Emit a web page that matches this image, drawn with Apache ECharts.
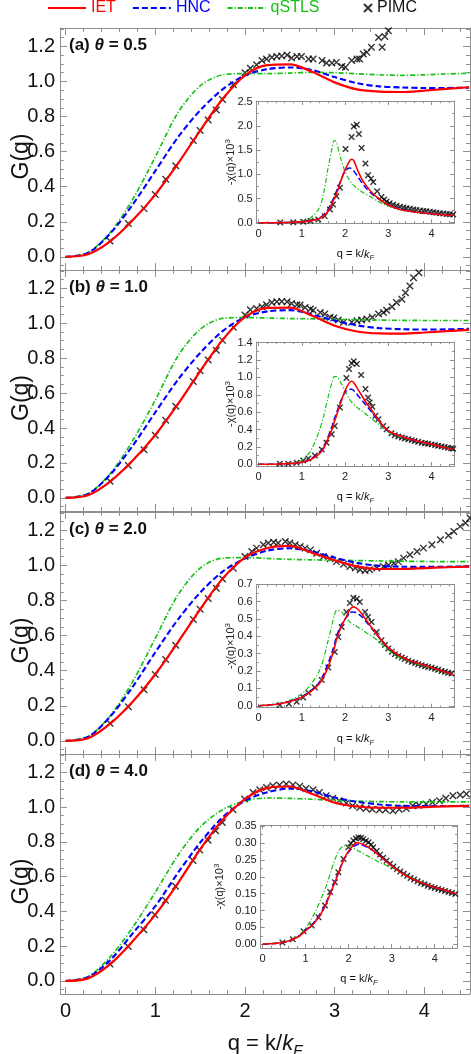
<!DOCTYPE html>
<html>
<head>
<meta charset="utf-8">
<script src="https://cdn.jsdelivr.net/npm/echarts@6.0.0/dist/echarts.min.js"></script>
<style>
html, body { margin: 0; padding: 0; background: #fff; }
#chart { width: 471px; height: 1054px; }
</style>
</head>
<body>
<div id="chart"></div>
<script>
// ---- data ----
const mainQ = [0, 0.25, 0.5, 0.75, 1, 1.25, 1.5, 1.75, 2, 2.25, 2.5, 2.75, 3, 3.25, 3.5, 3.75, 4, 4.25, 4.5];

const ietMainA = [0, 0.015, 0.09, 0.21, 0.355, 0.53, 0.72, 0.9, 1.035, 1.093, 1.097, 1.055, 0.995, 0.955, 0.942, 0.94, 0.948, 0.958, 0.967];
const hncMainA = [0, 0.022, 0.135, 0.3, 0.49, 0.68, 0.835, 0.955, 1.035, 1.07, 1.08, 1.065, 1.025, 0.99, 0.972, 0.966, 0.963, 0.963, 0.965];
const stlsMainA = [0, 0.025, 0.14, 0.33, 0.57, 0.82, 0.975, 1.038, 1.045, 1.045, 1.048, 1.052, 1.05, 1.044, 1.038, 1.035, 1.038, 1.043, 1.047];

const ietMainB = [0, 0.015, 0.095, 0.215, 0.36, 0.535, 0.725, 0.905, 1.035, 1.088, 1.09, 1.043, 0.986, 0.953, 0.942, 0.941, 0.947, 0.955, 0.962];
const hncMainB = [0, 0.022, 0.135, 0.3, 0.49, 0.675, 0.83, 0.955, 1.035, 1.068, 1.075, 1.05, 1.015, 0.988, 0.972, 0.966, 0.964, 0.965, 0.968];
const stlsMainB = [0, 0.025, 0.14, 0.33, 0.56, 0.81, 0.965, 1.028, 1.033, 1.03, 1.027, 1.025, 1.022, 1.02, 1.018, 1.017, 1.016, 1.016, 1.016];

const ietMainC = [0, 0.015, 0.1, 0.225, 0.38, 0.56, 0.75, 0.925, 1.045, 1.1, 1.112, 1.072, 1.03, 0.995, 0.98, 0.98, 0.985, 0.99, 0.993];
const hncMainC = [0, 0.022, 0.14, 0.31, 0.505, 0.69, 0.845, 0.965, 1.04, 1.085, 1.098, 1.08, 1.045, 1.015, 0.998, 0.993, 0.992, 0.993, 0.994];
const stlsMainC = [0, 0.025, 0.145, 0.34, 0.585, 0.83, 0.985, 1.042, 1.045, 1.04, 1.035, 1.032, 1.03, 1.028, 1.026, 1.024, 1.023, 1.022, 1.022];

const ietMainD = [0, 0.015, 0.098, 0.23, 0.381, 0.56, 0.757, 0.925, 1.046, 1.11, 1.118, 1.075, 1.025, 1.003, 0.996, 0.996, 1.0, 1.004, 1.007];
const hncMainD = [0, 0.022, 0.121, 0.275, 0.43, 0.62, 0.795, 0.94, 1.036, 1.085, 1.106, 1.09, 1.055, 1.03, 1.015, 1.007, 1.006, 1.006, 1.007];
const stlsMainD = [0, 0.025, 0.14, 0.31, 0.51, 0.72, 0.885, 0.985, 1.035, 1.052, 1.05, 1.045, 1.038, 1.034, 1.031, 1.03, 1.03, 1.03, 1.03];

const pimcMainA = [[0.495, 0.09], [0.7, 0.19], [0.874, 0.275], [1, 0.355], [1.116, 0.442], [1.228, 0.52], [1.424, 0.663], [1.5, 0.72], [1.59, 0.78], [1.68, 0.838], [1.75, 0.897], [1.87, 0.982], [2, 1.05], [2.06, 1.075], [2.13, 1.095], [2.19, 1.119], [2.24, 1.128], [2.3, 1.138], [2.355, 1.143], [2.41, 1.146], [2.47, 1.151], [2.52, 1.134], [2.58, 1.143], [2.63, 1.143], [2.71, 1.128], [2.76, 1.128], [2.86, 1.119], [2.91, 1.105], [2.97, 1.105], [3.02, 1.109], [3.08, 1.086], [3.12, 1.081], [3.19, 1.119], [3.25, 1.128], [3.28, 1.128], [3.32, 1.157], [3.36, 1.166], [3.41, 1.195], [3.49, 1.251], [3.53, 1.195], [3.56, 1.257], [3.6, 1.29]];
const pimcMainB = [[0.495, 0.096], [0.7, 0.185], [0.874, 0.276], [1, 0.359], [1.116, 0.445], [1.228, 0.525], [1.424, 0.666], [1.5, 0.728], [1.59, 0.789], [1.68, 0.845], [1.75, 0.902], [1.87, 0.977], [2, 1.047], [2.06, 1.077], [2.13, 1.085], [2.19, 1.094], [2.24, 1.106], [2.3, 1.119], [2.355, 1.123], [2.41, 1.125], [2.47, 1.123], [2.52, 1.113], [2.58, 1.106], [2.615, 1.104], [2.67, 1.09], [2.73, 1.081], [2.76, 1.075], [2.84, 1.062], [2.89, 1.053], [2.95, 1.034], [2.99, 1.03], [3.04, 1.019], [3.1, 1.006], [3.19, 1.006], [3.25, 1.015], [3.3, 1.019], [3.36, 1.024], [3.42, 1.034], [3.49, 1.053], [3.545, 1.062], [3.58, 1.075], [3.64, 1.094], [3.69, 1.119], [3.75, 1.138], [3.79, 1.175], [3.84, 1.213], [3.88, 1.26], [3.94, 1.289]];
const pimcMainC = [[0.495, 0.101], [0.7, 0.195], [0.874, 0.292], [1, 0.378], [1.116, 0.464], [1.228, 0.545], [1.424, 0.692], [1.5, 0.751], [1.59, 0.812], [1.68, 0.87], [1.75, 0.923], [1.87, 0.984], [2, 1.051], [2.076, 1.08], [2.13, 1.099], [2.205, 1.118], [2.26, 1.128], [2.32, 1.133], [2.37, 1.128], [2.45, 1.137], [2.5, 1.128], [2.56, 1.118], [2.615, 1.108], [2.67, 1.099], [2.73, 1.089], [2.8, 1.07], [2.875, 1.051], [2.95, 1.038], [3.02, 1.022], [3.1, 1.007], [3.17, 0.994], [3.23, 0.985], [3.285, 0.975], [3.34, 0.971], [3.39, 0.975], [3.47, 0.985], [3.545, 0.994], [3.6, 1.003], [3.66, 1.013], [3.71, 1.022], [3.77, 1.042], [3.84, 1.061], [3.92, 1.08], [3.99, 1.099], [4.085, 1.118], [4.18, 1.147], [4.27, 1.171], [4.33, 1.194], [4.4, 1.223], [4.46, 1.242], [4.51, 1.271]];
const pimcMainD = [[0.494, 0.098], [0.698, 0.198], [0.872, 0.295], [0.994, 0.381], [1.113, 0.464], [1.225, 0.545], [1.42, 0.693], [1.495, 0.753], [1.588, 0.809], [1.673, 0.863], [1.748, 0.911], [1.866, 0.984], [1.996, 1.046], [2.09, 1.084], [2.165, 1.1], [2.24, 1.113], [2.31, 1.123], [2.385, 1.127], [2.46, 1.132], [2.535, 1.127], [2.61, 1.119], [2.68, 1.107], [2.76, 1.1], [2.83, 1.084], [2.905, 1.065], [2.98, 1.05], [3.05, 1.036], [3.13, 1.023], [3.2, 1.007], [3.28, 0.998], [3.35, 0.992], [3.42, 0.988], [3.5, 0.984], [3.57, 0.984], [3.65, 0.978], [3.72, 0.988], [3.8, 0.992], [3.87, 1.007], [3.94, 1.011], [4.02, 1.017], [4.09, 1.027], [4.17, 1.036], [4.24, 1.05], [4.32, 1.065], [4.4, 1.069], [4.47, 1.075]];

const insetQ = [0, 0.5, 0.8, 1, 1.2, 1.4, 1.5, 1.6, 1.7, 1.75, 1.8, 1.9, 2, 2.1, 2.15, 2.2, 2.3, 2.4, 2.5, 2.6, 2.8, 3, 3.25, 3.5, 3.75, 4, 4.25, 4.5];

const ietInsetA = [0, 0.002, 0.008, 0.018, 0.038, 0.085, 0.14, 0.235, 0.4, 0.5, 0.6, 0.86, 1.09, 1.27, 1.31, 1.28, 1.06, 0.88, 0.75, 0.64, 0.48, 0.365, 0.28, 0.235, 0.205, 0.185, 0.165, 0.15];
const hncInsetA = [0, 0.002, 0.009, 0.02, 0.042, 0.095, 0.16, 0.27, 0.44, 0.54, 0.65, 0.87, 1.07, 1.13, 1.12, 1.07, 0.94, 0.81, 0.7, 0.61, 0.475, 0.37, 0.285, 0.24, 0.21, 0.19, 0.17, 0.155];
const stlsInsetA = [0, 0.003, 0.012, 0.03, 0.1, 0.3, 0.6, 1.1, 1.55, 1.7, 1.66, 1.32, 1.05, 0.88, 0.82, 0.77, 0.69, 0.63, 0.58, 0.53, 0.42, 0.345, 0.28, 0.24, 0.21, 0.19, 0.17, 0.155];

const ietInsetB = [0, 0.003, 0.01, 0.022, 0.052, 0.12, 0.18, 0.29, 0.41, 0.49, 0.56, 0.71, 0.85, 0.94, 0.955, 0.94, 0.86, 0.78, 0.7, 0.635, 0.49, 0.385, 0.33, 0.29, 0.26, 0.23, 0.2, 0.175];
const hncInsetB = [0, 0.003, 0.011, 0.024, 0.056, 0.13, 0.2, 0.31, 0.44, 0.52, 0.59, 0.73, 0.83, 0.865, 0.865, 0.85, 0.79, 0.73, 0.67, 0.61, 0.48, 0.38, 0.33, 0.29, 0.26, 0.23, 0.2, 0.175];
const stlsInsetB = [0, 0.003, 0.015, 0.05, 0.15, 0.38, 0.55, 0.76, 0.95, 1.01, 1.01, 0.94, 0.84, 0.75, 0.715, 0.69, 0.645, 0.61, 0.57, 0.53, 0.45, 0.37, 0.32, 0.29, 0.26, 0.235, 0.205, 0.18];

const ietInsetC = [0, 0.012, 0.03, 0.05, 0.08, 0.125, 0.165, 0.22, 0.29, 0.33, 0.38, 0.45, 0.5, 0.55, 0.565, 0.57, 0.555, 0.525, 0.49, 0.455, 0.39, 0.335, 0.29, 0.26, 0.24, 0.22, 0.2, 0.178];
const hncInsetC = [0, 0.013, 0.032, 0.053, 0.085, 0.135, 0.18, 0.24, 0.31, 0.35, 0.4, 0.46, 0.5, 0.53, 0.54, 0.54, 0.53, 0.51, 0.48, 0.45, 0.39, 0.335, 0.29, 0.26, 0.24, 0.22, 0.2, 0.178];
const stlsInsetC = [0, 0.014, 0.04, 0.07, 0.12, 0.2, 0.27, 0.37, 0.47, 0.52, 0.55, 0.545, 0.512, 0.485, 0.475, 0.467, 0.452, 0.438, 0.42, 0.405, 0.365, 0.32, 0.28, 0.255, 0.235, 0.215, 0.195, 0.175];

const ietInsetD = [0, 0.006, 0.02, 0.04, 0.063, 0.1, 0.127, 0.158, 0.19, 0.207, 0.224, 0.255, 0.277, 0.293, 0.299, 0.301, 0.298, 0.292, 0.284, 0.275, 0.253, 0.233, 0.21, 0.193, 0.18, 0.17, 0.16, 0.15];
const hncInsetD = [0, 0.006, 0.021, 0.042, 0.066, 0.104, 0.131, 0.162, 0.194, 0.21, 0.226, 0.254, 0.274, 0.288, 0.293, 0.296, 0.295, 0.29, 0.283, 0.275, 0.254, 0.234, 0.211, 0.194, 0.181, 0.17, 0.16, 0.15];
const stlsInsetD = [0, 0.007, 0.022, 0.048, 0.09, 0.148, 0.18, 0.222, 0.258, 0.272, 0.283, 0.292, 0.29, 0.285, 0.282, 0.279, 0.272, 0.265, 0.258, 0.251, 0.238, 0.228, 0.212, 0.196, 0.182, 0.171, 0.161, 0.152];

const pimcInsetA = [[0.5, 0.004], [0.8, 0.01], [1.03, 0.02], [1.2, 0.04], [1.38, 0.068], [1.53, 0.136], [1.65, 0.273], [1.72, 0.376], [1.8, 0.547], [1.88, 0.72], [2.01, 1.52], [2.15, 1.767], [2.2, 1.985], [2.27, 2.02], [2.32, 1.83], [2.38, 1.54], [2.47, 1.22], [2.53, 0.98], [2.6, 0.91], [2.65, 0.84], [2.74, 0.65], [2.84, 0.53], [2.9, 0.48], [2.96, 0.44], [3.03, 0.4], [3.11, 0.376], [3.19, 0.35], [3.27, 0.33], [3.35, 0.315], [3.42, 0.3], [3.5, 0.288], [3.58, 0.275], [3.65, 0.265], [3.73, 0.253], [3.81, 0.243], [3.88, 0.235], [3.96, 0.226], [4.04, 0.216], [4.11, 0.207], [4.19, 0.197], [4.27, 0.19], [4.35, 0.182], [4.42, 0.175], [4.5, 0.168]];
const pimcInsetB = [[0.49, 0.006], [0.685, 0.006], [0.88, 0.017], [1.03, 0.044], [1.15, 0.067], [1.3, 0.1], [1.46, 0.171], [1.57, 0.249], [1.69, 0.345], [1.76, 0.442], [1.88, 0.654], [2.03, 0.993], [2.09, 1.097], [2.15, 1.163], [2.2, 1.186], [2.27, 1.155], [2.37, 1.028], [2.47, 0.866], [2.53, 0.77], [2.57, 0.712], [2.63, 0.662], [2.7, 0.558], [2.77, 0.518], [2.88, 0.442], [2.96, 0.403], [3.07, 0.356], [3.15, 0.333], [3.23, 0.32], [3.31, 0.307], [3.38, 0.297], [3.46, 0.287], [3.54, 0.278], [3.61, 0.268], [3.69, 0.258], [3.77, 0.249], [3.85, 0.243], [3.92, 0.237], [4, 0.229], [4.08, 0.222], [4.15, 0.214], [4.23, 0.206], [4.3, 0.198], [4.38, 0.191], [4.45, 0.184], [4.5, 0.179]];
const pimcInsetC = [[0.49, 0.004], [0.7, 0.012], [0.88, 0.023], [1.03, 0.048], [1.15, 0.075], [1.3, 0.105], [1.46, 0.148], [1.61, 0.22], [1.76, 0.31], [1.84, 0.397], [1.92, 0.454], [2.03, 0.54], [2.11, 0.592], [2.19, 0.623], [2.27, 0.617], [2.34, 0.598], [2.46, 0.54], [2.53, 0.512], [2.61, 0.483], [2.73, 0.425], [2.84, 0.378], [2.92, 0.35], [3, 0.33], [3.08, 0.312], [3.15, 0.297], [3.23, 0.287], [3.31, 0.278], [3.38, 0.27], [3.46, 0.26], [3.54, 0.253], [3.62, 0.246], [3.69, 0.24], [3.77, 0.234], [3.85, 0.228], [3.92, 0.223], [4, 0.219], [4.08, 0.213], [4.15, 0.207], [4.23, 0.201], [4.31, 0.196], [4.38, 0.191], [4.46, 0.186]];
const pimcInsetD = [[0.46, 0.005], [0.7, 0.015], [0.95, 0.039], [1.14, 0.056], [1.3, 0.08], [1.45, 0.115], [1.57, 0.155], [1.68, 0.184], [1.76, 0.214], [1.88, 0.253], [1.99, 0.288], [2.05, 0.3], [2.11, 0.308], [2.17, 0.314], [2.23, 0.317], [2.29, 0.316], [2.34, 0.312], [2.4, 0.307], [2.46, 0.303], [2.52, 0.295], [2.57, 0.288], [2.65, 0.277], [2.73, 0.266], [2.8, 0.257], [2.88, 0.248], [2.96, 0.239], [3.04, 0.231], [3.12, 0.223], [3.2, 0.216], [3.28, 0.209], [3.36, 0.203], [3.44, 0.197], [3.52, 0.192], [3.6, 0.187], [3.68, 0.182], [3.76, 0.178], [3.84, 0.174], [3.92, 0.17], [4, 0.167], [4.08, 0.164], [4.16, 0.161], [4.24, 0.158], [4.32, 0.155], [4.4, 0.152], [4.48, 0.149]];

// tick labels
const mainXTicks = [0, 1, 2, 3, 4];
const mainYTicks = [0, 0.2, 0.4, 0.6, 0.8, 1.0, 1.2];
const insetXTicks = [0, 1, 2, 3, 4];
const insetYTicksA = [0, 0.5, 1, 1.5, 2, 2.5];
const insetYTicksB = [0, 0.2, 0.4, 0.6, 0.8, 1, 1.2, 1.4];
const insetYTicksC = [0, 0.1, 0.2, 0.3, 0.4, 0.5, 0.6, 0.7];
const insetYTicksD = [0, 0.05, 0.1, 0.15, 0.2, 0.25, 0.3, 0.35];

// ---- styling / layout ----
const FONT = 'Liberation Sans';
const FRAME = '#8f8f8f';
const RED = '#ff0000', BLUE = '#0000ff', GREEN = '#14c214';
const CROSS = 'path://M0,0L10,10M10,0L0,10';

const panels = [
  {tag: 'a', theta: '0.5', top: 28, height: 242, iet: ietMainA, hnc: hncMainA, stls: stlsMainA, pimc: pimcMainA,
   inset: {left: 256.7, top: 101, width: 197.6, height: 122.3, yMin: -0.012, yMax: 2.512, ticks: insetYTicksA, dec: 1, gap: 19,
           iet: ietInsetA, hnc: hncInsetA, stls: stlsInsetA, pimc: pimcInsetA}},
  {tag: 'b', theta: '1.0', top: 270, height: 241, iet: ietMainB, hnc: hncMainB, stls: stlsMainB, pimc: pimcMainB,
   inset: {left: 256.7, top: 342, width: 197.6, height: 124, yMin: -0.02, yMax: 1.408, ticks: insetYTicksB, dec: 1, gap: 19,
           iet: ietInsetB, hnc: hncInsetB, stls: stlsInsetB, pimc: pimcInsetB}},
  {tag: 'c', theta: '2.0', top: 512, height: 242, iet: ietMainC, hnc: hncMainC, stls: stlsMainC, pimc: pimcMainC,
   inset: {left: 256.7, top: 584.3, width: 197.6, height: 123.4, yMin: -0.011, yMax: 0.7, ticks: insetYTicksC, dec: 1, gap: 19,
           iet: ietInsetC, hnc: hncInsetC, stls: stlsInsetC, pimc: pimcInsetC}},
  {tag: 'd', theta: '4.0', top: 754, height: 240, iet: ietMainD, hnc: hncMainD, stls: stlsMainD, pimc: pimcMainD,
   inset: {left: 260.7, top: 825.3, width: 196.6, height: 122.7, yMin: -0.011, yMax: 0.353, ticks: insetYTicksD, dec: 2, gap: 34,
           iet: ietInsetD, hnc: hncInsetD, stls: stlsInsetD, pimc: pimcInsetD}}
];

function steps(from, to, step) {
  const out = [];
  for (let v = from; v <= to + 1e-9; v += step) out.push(+v.toFixed(4));
  return out;
}
function minorsOf(majors, sub, lo, hi) {
  const step = (majors[1] - majors[0]) / sub;
  return steps(lo, hi, step).filter(v => !majors.some(m => Math.abs(m - v) < 1e-6));
}

const grids = [], xAxes = [], yAxes = [], series = [], titles = [];

// one framed box: bottom/top/left/right axes with inside major + minor ticks
function frame(box, xr, yr, xMajor, xMinor, yMajor, yMinor, len) {
  const gi = grids.length;
  grids.push({left: box.left, top: box.top, width: box.width, height: box.height, containLabel: false, outerBoundsMode: 'none'});
  const base = {gridIndex: gi, type: 'value', silent: true, splitLine: {show: false}, axisLabel: {show: false}, nameMoveOverlap: false};
  const line = show => ({show, onZero: false, lineStyle: {color: FRAME, width: 1}});
  const tick = (vals, l) => ({show: true, inside: true, length: l, customValues: vals, lineStyle: {color: FRAME, width: 1}});
  const xi = xAxes.length, yi = yAxes.length;
  for (const pos of ['bottom', 'top']) {
    xAxes.push({...base, position: pos, min: xr[0], max: xr[1], axisLine: line(true), axisTick: tick(xMajor, len)});
    xAxes.push({...base, position: pos, min: xr[0], max: xr[1], axisLine: line(false), axisTick: tick(xMinor, len * 0.55)});
  }
  for (const pos of ['left', 'right']) {
    yAxes.push({...base, position: pos, min: yr[0], max: yr[1], axisLine: line(true), axisTick: tick(yMajor, len)});
    yAxes.push({...base, position: pos, min: yr[0], max: yr[1], axisLine: line(false), axisTick: tick(yMinor, len * 0.55)});
  }
  return {xi, yi};
}

function addCurves(p, q, xi, yi, w) {
  const mk = (name, vals, color, width, type) => ({
    name, type: 'line', xAxisIndex: xi, yAxisIndex: yi,
    data: q.map((x, i) => [x, vals[i]]),
    showSymbol: false, symbol: 'none', smooth: 0.3, clip: true,
    lineStyle: {color, width, type}, itemStyle: {color}, emphasis: {disabled: true}
  });
  series.push(mk('qSTLS', p.stls, GREEN, w * 0.8, [5, 2, 1.2, 2]));
  series.push(mk('HNC', p.hnc, BLUE, w, [6, 3]));
  series.push(mk('IET', p.iet, RED, w * 1.05, 'solid'));
  series.push({
    name: 'PIMC', type: 'scatter', xAxisIndex: xi, yAxisIndex: yi, data: p.pimc,
    symbol: CROSS, symbolSize: w > 1.8 ? 6.5 : 5.5, clip: true,
    itemStyle: {color: 'rgba(0,0,0,0)', borderColor: '#000', borderWidth: 1.4}, emphasis: {disabled: true}
  });
}

const kfRich = (size) => ({
  n: {fontSize: size, fontFamily: FONT, color: '#111', lineHeight: size * 1.3},
  i: {fontSize: size, fontFamily: FONT, fontStyle: 'italic', color: '#111', lineHeight: size * 1.3},
  s: {fontSize: size * 0.68, fontFamily: FONT, fontStyle: 'italic', color: '#111', verticalAlign: 'bottom', lineHeight: size * 0.9}
});

const mainXR = [-0.063, 4.51], mainYR = [-0.075, 1.305];
const insetXR = [-0.045, 4.525];

panels.forEach((p, k) => {
  const last = k === panels.length - 1;
  const m = frame({left: 60, top: p.top, width: 410, height: p.height}, mainXR, mainYR,
    mainXTicks, minorsOf(mainXTicks, 5, 0, 4.4), mainYTicks, minorsOf(mainYTicks, 4, -0.05, 1.3), 7);
  Object.assign(yAxes[m.yi], {
    axisLabel: {show: true, customValues: mainYTicks, formatter: v => v.toFixed(1), fontSize: 20, fontFamily: FONT, color: '#111', margin: 5},
    name: 'G(q)', nameLocation: 'middle', nameGap: 27,
    nameTextStyle: {fontSize: 23, fontFamily: FONT, color: '#111', padding: [0, 15, 0, 0]}
  });
  if (last) {
    Object.assign(xAxes[m.xi], {
      axisLabel: {show: true, customValues: mainXTicks, fontSize: 20, fontFamily: FONT, color: '#111', margin: 7},
      name: '{n|q = k/}{i|k}{s|F}', nameLocation: 'middle', nameGap: 36,
      nameTextStyle: {rich: kfRich(22)}
    });
  }
  addCurves(p, mainQ, m.xi, m.yi, 2.1);

  titles.push({
    left: 69, top: p.top + 9, padding: 0,
    text: `{b|(${p.tag}) }{t|θ}{b| = ${p.theta}}`,
    textStyle: {rich: {
      b: {fontSize: 17, fontWeight: 'bold', fontFamily: FONT, color: '#111'},
      t: {fontSize: 17, fontWeight: 'bold', fontStyle: 'italic', fontFamily: FONT, color: '#111'}
    }}
  });

  const s = p.inset;
  const yMinor = minorsOf(s.ticks, 2, 0, s.ticks[s.ticks.length - 1]);
  const n = frame({left: s.left, top: s.top, width: s.width, height: s.height}, insetXR, [s.yMin, s.yMax],
    insetXTicks, minorsOf(insetXTicks, 5, 0, 4.4), s.ticks, yMinor, 4);
  Object.assign(xAxes[n.xi], {
    axisLabel: {show: true, customValues: insetXTicks, fontSize: 11, fontFamily: FONT, color: '#222', margin: 5},
    name: '{n|q = k/}{i|k}{s|F}', nameLocation: 'middle', nameGap: 24,
    nameTextStyle: {rich: kfRich(11)}
  });
  Object.assign(yAxes[n.yi], {
    axisLabel: {show: true, customValues: s.ticks, formatter: v => v.toFixed(s.dec), fontSize: 11, fontFamily: FONT, color: '#222', margin: 4},
    name: '{n|-χ(q)×10}{p|3}', nameLocation: 'middle', nameGap: s.gap,
    nameTextStyle: {rich: {
      n: {fontSize: 11, fontFamily: FONT, color: '#222', lineHeight: 14},
      p: {fontSize: 8, fontFamily: FONT, color: '#222', verticalAlign: 'top', lineHeight: 9}
    }}
  });
  addCurves(s, insetQ, n.xi, n.yi, 1.5);
});

const chart = echarts.init(document.getElementById('chart'), null, {renderer: 'canvas'});
chart.setOption({
  animation: false,
  backgroundColor: '#fff',
  title: titles,
  legend: [
    {left: 47, top: 0, padding: 0, itemWidth: 38, itemHeight: 14, itemGap: 16, selectedMode: false,
     itemStyle: {opacity: 0}, textStyle: {fontSize: 16, fontFamily: FONT},
     data: [{name: 'IET', textStyle: {color: RED}}, {name: 'HNC', textStyle: {color: BLUE}}, {name: 'qSTLS', textStyle: {color: GREEN}}]},
    {left: 363, top: 0, padding: 0, itemWidth: 8, itemHeight: 8, selectedMode: false,
     textStyle: {fontSize: 16, fontFamily: FONT, color: '#111'},
     data: [{name: 'PIMC'}]}
  ],
  grid: grids,
  xAxis: xAxes,
  yAxis: yAxes,
  series: series
});
</script>
</body>
</html>
